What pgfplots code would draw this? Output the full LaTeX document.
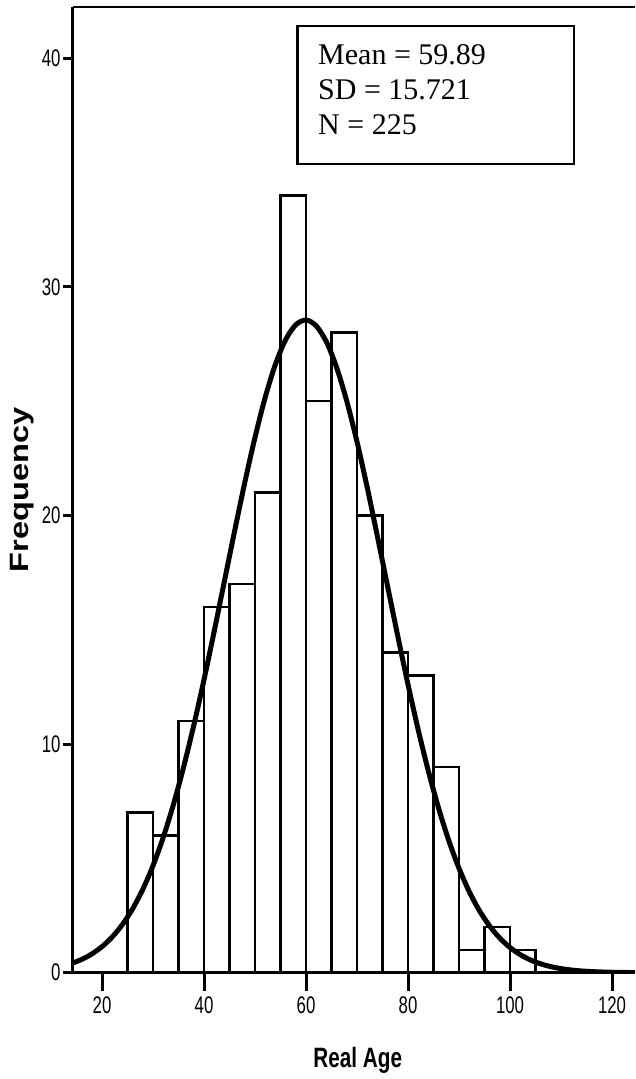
\documentclass[border=0pt]{standalone}
\usepackage{pgfplots}
\pgfplotsset{compat=1.18}
\usepackage{fontspec}
\setmainfont{Liberation Sans}
\newfontfamily\narrow[FakeStretch=0.7]{Liberation Sans}
\newfontfamily\narrowb[FakeStretch=0.74]{Liberation Sans}
\newfontfamily\widefont[FakeStretch=1.23]{Liberation Sans}
\newfontfamily\serif{Liberation Serif}
\begin{document}
\begin{tikzpicture}
\pgfplotsset{common/.style={
  at={(0,0)}, anchor=south west,
  scale only axis, width=562.3pt, height=965.7pt,
  xmin=14.25, xmax=124.5, ymin=0, ymax=42.24,
  tick align=outside,
  minor tick num=0,
  every tick/.style={black, line width=3pt},
  major tick style={black, line width=3pt},
  /pgf/number format/assume math mode=true,
  tick label style={font=\narrow\fontsize{24}{24}\selectfont},
}}
\begin{axis}[
  common,
  axis x line*=bottom, axis y line*=left,
  axis line style={line width=3pt},
  xtick=\empty, ytick={0,10,20,30,40},
  major tick length=10pt,
  yticklabel style={anchor=east, inner sep=2pt},
  ylabel={Frequency},
  ylabel style={at={(rel axis cs:0,0.5)}, anchor=center, yshift=50.7pt, font=\widefont\bfseries\fontsize{26.5}{26.5}\selectfont},
  clip=true,
]
\addplot[ybar interval, draw=black, fill=white, line width=2.5pt] coordinates {
  (25,7) (30,6) (35,11) (40,16) (45,17) (50,21) (55,34) (60,25)
  (65,28) (70,20) (75,14) (80,13) (85,9) (90,1) (95,2) (100,1) (105,1)
};
\addplot[black, line width=5pt, smooth] coordinates {
  (14,0.403) (16,0.580) (18,0.820) (20,1.141) (22,1.563) (24,2.108)
  (26,2.796) (28,3.649) (30,4.684) (32,5.918) (34,7.357) (36,8.999)
  (38,10.83) (40,12.82) (42,14.94) (44,17.13) (46,19.32) (48,21.45)
  (50,23.42) (52,25.17) (54,26.61) (56,27.69) (58,28.34) (60,28.55)
  (62,28.29) (64,27.59) (66,26.47) (68,24.99) (70,23.22) (72,21.22)
  (74,19.08) (76,16.89) (78,14.71) (80,12.60) (82,10.62) (84,8.807)
  (86,7.188) (88,5.772) (90,4.562) (92,3.546) (94,2.713) (96,2.041)
  (98,1.512) (100,1.101) (102,0.790) (104,0.557) (106,0.387) (108,0.264)
  (110,0.178) (112,0.1175) (114,0.0765) (116,0.0489) (118,0.0308)
  (120,0.0191) (122,0.0116) (124,0.0070) (126,0.004)
};
\draw[line width=3pt] (rel axis cs:0,1) -- (rel axis cs:1,1);
\draw[line width=2.5pt, fill=white] (axis cs:58.37,41.41) rectangle (axis cs:112.55,35.38);
\node[anchor=base west, inner sep=0pt, font=\serif\fontsize{30}{30}\selectfont] at (axis cs:62.35,39.71) {Mean = 59.89};
\node[anchor=base west, inner sep=0pt, font=\serif\fontsize{30}{30}\selectfont] at (axis cs:62.35,38.18) {SD = 15.721};
\node[anchor=base west, inner sep=0pt, font=\serif\fontsize{30}{30}\selectfont] at (axis cs:62.35,36.65) {N = 225};
\end{axis}
\begin{axis}[
  common,
  axis x line*=bottom, hide y axis,
  axis line style={line width=3pt},
  xtick={20,40,60,80,100,120},
  major tick length=18pt,
  xticklabel style={anchor=north, inner sep=2pt, yshift=-4pt},
  xlabel={Real Age},
  xlabel style={at={(rel axis cs:0.507,0)}, anchor=base, yshift=-94.3pt, font=\narrowb\bfseries\fontsize{28}{28}\selectfont},
]
\end{axis}
\pgfresetboundingbox
\path[use as bounding box] (-72.7pt,-106.3pt) rectangle (562.3pt,972.7pt);
\end{tikzpicture}
\end{document}
